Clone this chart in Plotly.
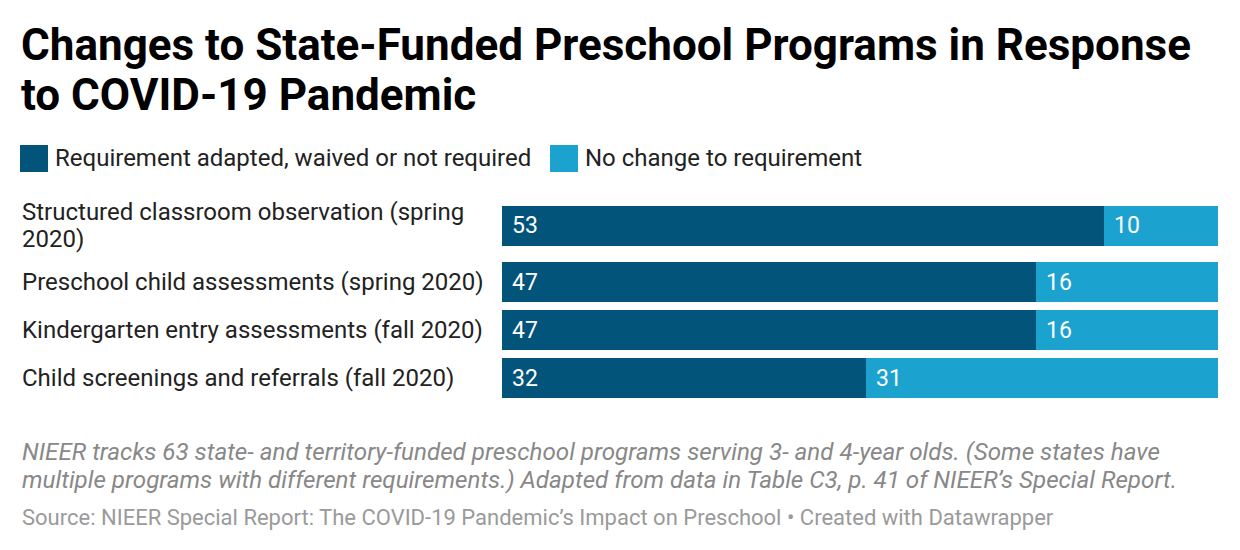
import plotly.graph_objects as go

# ---- data ----
categories = [
    "Structured classroom observation (spring<br>2020)",
    "Preschool child assessments (spring 2020)",
    "Kindergarten entry assessments (fall 2020)",
    "Child screenings and referrals (fall 2020)",
]
adapted = [53, 47, 47, 32]
no_change = [10, 16, 16, 31]
series_names = ["Requirement adapted, waived or not required", "No change to requirement"]
title_text = "Changes to State-Funded Preschool Programs in Response<br>to COVID-19 Pandemic"
note_text = ("NIEER tracks 63 state- and territory-funded preschool programs serving 3- and 4-year olds. (Some states have<br>"
             "multiple programs with different requirements.) Adapted from data in Table C3, p. 41 of NIEER\u2019s Special Report.")
source_text = "Source: NIEER Special Report: The COVID-19 Pandemic\u2019s Impact on Preschool \u2022 Created with Datawrapper"

# ---- style ----
W, H = 1240, 550
DARK = "#03547b"
LIGHT = "#1ba2cf"
FONT = "Roboto"
BAR_H = 40

# row positions (in pixels from top of the bar block); wrapped labels get extra gap
positions = []
pos = 0
for i, c in enumerate(categories):
    positions.append(pos)
    gap = 16 if "<br>" in c else 8
    pos += BAR_H + gap
block_h = positions[-1] + BAR_H

plot_top = 206
plot_bottom = plot_top + block_h


def px(x):
    return x / W


def py(y):
    return 1 - y / H


def multiline(text, x, y_center, line_h, font, yref="paper", to_y=py):
    """Place text lines one by one (tighter line spacing than plotly's default)."""
    lines = text.split("<br>")
    n = len(lines)
    out = []
    for k, ln in enumerate(lines):
        yc = y_center + (k - (n - 1) / 2) * line_h
        out.append(dict(x=x, y=to_y(yc), xref="paper", yref=yref, text=ln, showarrow=False,
                        xanchor="left", yanchor="middle", align="left", font=font))
    return out


total = [a + b for a, b in zip(adapted, no_change)]
xmax = max(total)

fig = go.Figure()
fig.add_trace(go.Bar(
    y=positions, x=adapted, orientation="h", marker=dict(color=DARK, line=dict(width=0)),
    width=BAR_H, name=series_names[0], showlegend=False, hoverinfo="x",
))
fig.add_trace(go.Bar(
    y=positions, x=no_change, base=adapted, orientation="h", marker=dict(color=LIGHT, line=dict(width=0)),
    width=BAR_H, name=series_names[1], showlegend=False, hoverinfo="x",
))

annotations = []
val_font = dict(family=FONT, size=23, color="white")
# value labels
for p, a, b in zip(positions, adapted, no_change):
    annotations.append(dict(x=0, y=p, xref="x", yref="y", text=str(a), showarrow=False,
                            xanchor="left", xshift=8, font=val_font))
    annotations.append(dict(x=a, y=p, xref="x", yref="y", text=str(b), showarrow=False,
                            xanchor="left", xshift=8, font=val_font))
# category labels
lab_font = dict(family=FONT, size=24, color="#222222")
for p, c in zip(positions, categories):
    annotations += multiline(c, px(20), p, 27, lab_font, yref="y", to_y=lambda v: v)
# title
annotations += multiline(title_text, px(19), 70, 50,
                         dict(family=FONT, size=44, color="#000000", weight=700))
# legend texts
leg_font = dict(family=FONT, size=24, color="#222222")
annotations.append(dict(x=px(53), y=py(158), xref="paper", yref="paper", text=series_names[0], showarrow=False,
                        xanchor="left", yanchor="middle", font=leg_font))
annotations.append(dict(x=px(583), y=py(158), xref="paper", yref="paper", text=series_names[1], showarrow=False,
                        xanchor="left", yanchor="middle", font=leg_font))
# note
annotations += multiline(note_text, px(20), 466, 28,
                         dict(family=FONT, size=24.2, color="#888888", style="italic"))
annotations.append(dict(x=px(20), y=py(517), xref="paper", yref="paper", text=source_text, showarrow=False,
                        xanchor="left", yanchor="middle", align="left",
                        font=dict(family=FONT, size=22, color="#9a9a9a")))

shapes = [
    dict(type="rect", xref="paper", yref="paper", x0=px(20), x1=px(48), y0=py(145), y1=py(172),
         fillcolor=DARK, line=dict(width=0)),
    dict(type="rect", xref="paper", yref="paper", x0=px(550), x1=px(578), y0=py(145), y1=py(172),
         fillcolor=LIGHT, line=dict(width=0)),
]

fig.update_layout(
    width=W, height=H,
    margin=dict(l=0, r=0, t=0, b=0),
    paper_bgcolor="white", plot_bgcolor="white",
    barmode="overlay", bargap=0,
    xaxis=dict(domain=[px(502), px(1218)], range=[0, xmax], visible=False, fixedrange=True),
    yaxis=dict(domain=[1 - plot_bottom / H, 1 - plot_top / H],
               range=[block_h - BAR_H / 2, -BAR_H / 2], visible=False, fixedrange=True),
    annotations=annotations, shapes=shapes,
    showlegend=False,
)

fig.write_html("out.html")
